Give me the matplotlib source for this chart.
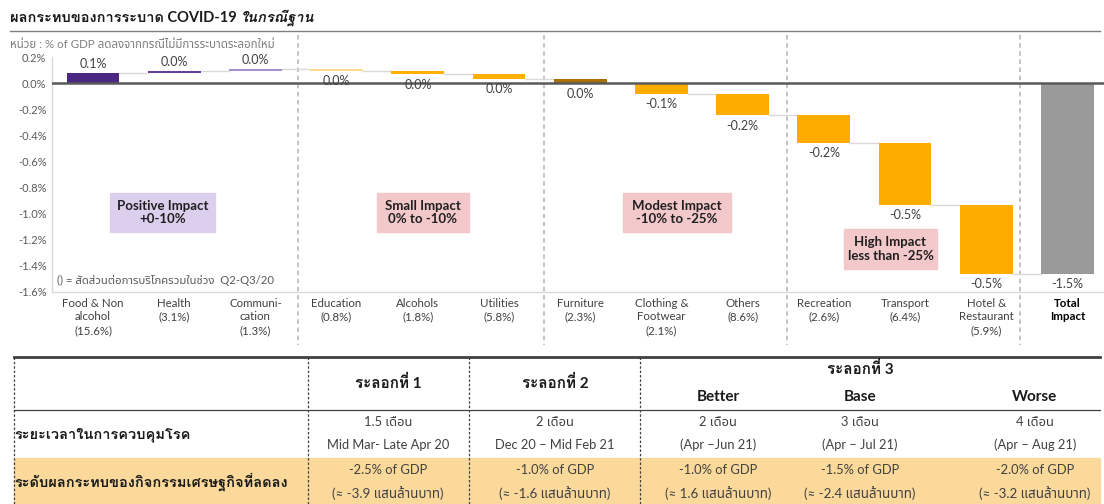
import matplotlib
matplotlib.use("Agg")
import matplotlib.pyplot as plt
from matplotlib import font_manager
from matplotlib.ft2font import FT2Font
from matplotlib.patches import Rectangle
from matplotlib.lines import Line2D
import matplotlib.transforms as mtransforms
import numpy as np

# ---------------- data ----------------
categories = ["Food & Non\nalcohol\n(15.6%)", "Health\n(3.1%)", "Communi-\ncation\n(1.3%)",
              "Education\n(0.8%)", "Alcohols\n(1.8%)", "Utilities\n(5.8%)",
              "Furniture\n(2.3%)", "Clothing &\nFootwear\n(2.1%)", "Others\n(8.6%)",
              "Recreation\n(2.6%)", "Transport\n(6.4%)", "Hotel &\nRestaurant\n(5.9%)",
              "Total\nImpact"]
changes = [0.075, 0.02, 0.01, -0.01, -0.027, -0.033, -0.035, -0.08, -0.165, -0.21, -0.475, -0.53]
value_labels = ["0.1%", "0.0%", "0.0%", "0.0%", "0.0%", "0.0%", "0.0%",
                "-0.1%", "-0.2%", "-0.2%", "-0.5%", "-0.5%", "-1.5%"]
bar_colors = ["#4B2683", "#6A3EA1", "#A68ED0", "#FFD98A", "#FFB000", "#FFB000",
              "#A86F00", "#FFAB00", "#FFAB00", "#FFAB00", "#FFAB00", "#FFAB00", "#9A9A9A"]
y_ticks = [0.2, 0.0, -0.2, -0.4, -0.6, -0.8, -1.0, -1.2, -1.4, -1.6]
separators = [2.52, 5.55, 8.55, 11.42]

groups = ["Positive Impact\n+0-10%", "Small Impact\n0% to -10%",
          "Modest Impact\n-10% to -25%", "High Impact\nless than -25%"]

table_header = ["ระลอกที่ 1", "ระลอกที่ 2", "ระลอกที่ 3"]
scenarios = ["Better", "Base", "Worse"]
row_labels = ["ระยะเวลาในการควบคุมโรค", "ระดับผลกระทบของกิจกรรมเศรษฐกิจที่ลดลง"]
duration_line1 = ["1.5 เดือน", "2 เดือน", "2 เดือน", "3 เดือน", "4 เดือน"]
duration_line2 = ["Mid Mar- Late Apr 20", "Dec 20 – Mid Feb 21", "(Apr –Jun 21)",
                  "(Apr – Jul 21)", "(Apr – Aug 21)"]
impact_line1 = ["-2.5% of GDP", "-1.0% of GDP", "-1.0% of GDP", "-1.5% of GDP", "-2.0% of GDP"]
impact_line2 = ["(≈ -3.9 แสนล้านบาท)", "(≈ -1.6 แสนล้านบาท)", "(≈ 1.6 แสนล้านบาท)",
                "(≈ -2.4 แสนล้านบาท)", "(≈ -3.2 แสนล้านบาท)"]

# ---------------- fonts ----------------
def thai_fonts():
    info = {}
    for f in font_manager.fontManager.ttflist:
        try:
            cm = FT2Font(f.fname).get_charmap()
        except Exception:
            continue
        if 0x0E01 in cm and 0x0E48 in cm:
            w = f.weight
            if isinstance(w, str):
                w = font_manager.weight_dict.get(w, 400)
            info.setdefault(f.name, set()).add(w)
    return info

info = thai_fonts()
reg_pref = ["Noto Sans Thai", "Noto Sans Thai UI", "Loma", "Tahoma", "Garuda", "Sarabun"]
bold_pref = ["Tahoma", "Loma", "Noto Sans Thai", "Noto Sans Thai UI", "Garuda", "Sarabun",
             "Kinnari", "Norasi"]
thai_reg = next((p for p in reg_pref if p in info), sorted(info)[0] if info else None)
with_bold = [k for k, ws in info.items() if max(ws) >= 600]
thai_bold = next((p for p in bold_pref if p in with_bold),
                 sorted(with_bold)[0] if with_bold else thai_reg)

fam = ["Lato"] + ([thai_reg] if thai_reg else []) + ["DejaVu Sans"]
fam_bold = ["Lato"] + ([thai_bold] if thai_bold else []) + ["DejaVu Sans"]
plt.rcParams["font.family"] = fam

W, H = 1104, 504
fig = plt.figure(figsize=(W / 100, H / 100), dpi=100)

def fx(x):
    return x / W

def fy(y):
    return 1 - y / H

# ---------------- chart ----------------
ax_l, ax_r, ax_t, ax_b = 52, 1104, 57, 292
ax = fig.add_axes([fx(ax_l), fy(ax_b), fx(ax_r - ax_l), fy(ax_t) - fy(ax_b)])
n = len(categories)
x = np.arange(n)
ax.set_xlim(-0.505, 12.45)
ax.set_ylim(-1.6, 0.2)

cum = np.cumsum(changes)
starts = np.concatenate([[0.0], cum[:-1]])
total = cum[-1]
bottoms = list(np.minimum(starts, cum)) + [min(0.0, total)]
heights = list(np.abs(np.array(changes))) + [abs(total)]
ends = list(cum) + [total]
wbar = 0.65
ax.bar(x, heights, bottom=bottoms, width=wbar, color=bar_colors, zorder=3)

# connectors
for i in range(n - 1):
    lvl = ends[i]
    ax.plot([x[i] + wbar / 2, x[i + 1] - wbar / 2], [lvl, lvl], color="#D9D9D9", lw=1, zorder=2)

ax.axhline(0, color="#595959", lw=1.8, zorder=4)

# value labels
vals = list(changes) + [total]
for i in range(n):
    if vals[i] > 0:
        yv = bottoms[i] + heights[i]
        ax.annotate(value_labels[i], (x[i], yv), xytext=(0, 6.5), textcoords="offset points",
                    ha="center", va="center", fontsize=9, color="#404040", zorder=5)
    else:
        yv = bottoms[i]
        ax.annotate(value_labels[i], (x[i], yv), xytext=(0, -7.5), textcoords="offset points",
                    ha="center", va="center", fontsize=9, color="#404040", zorder=5)

ax.set_yticks(y_ticks)
ax.set_yticklabels([f"{v:.1f}%" for v in y_ticks], fontsize=8, color="#595959")
ax.tick_params(axis="y", length=0, pad=4)
ax.set_xticks(x)
ax.set_xticklabels(categories, fontsize=8.3, color="#404040", linespacing=1.3)
ax.tick_params(axis="x", length=0, pad=4)
for lab in ax.get_xticklabels()[-1:]:
    lab.set_fontweight("bold")
    lab.set_color("#000000")
for s in ["top", "right"]:
    ax.spines[s].set_visible(False)
for s in ["left", "bottom"]:
    ax.spines[s].set_color("#D9D9D9")
    ax.spines[s].set_linewidth(1)

# separators spanning beyond axes
trans = mtransforms.blended_transform_factory(ax.transData, fig.transFigure)
for sx in separators:
    ax.add_line(Line2D([sx, sx], [fy(35), fy(345)], transform=trans, color="#BFBFBF",
                       lw=1.3, ls=(0, (2.5, 2)), clip_on=False, zorder=1))

# group boxes
boxes = [(110, 215, 193, 232, "#DCCFEE"), (377, 469, 193, 232, "#F2C8CB"),
         (623, 731, 193, 232, "#F2C8CB"), (844, 937, 229, 269, "#F2C8CB")]
for (x0, x1, y0, y1, c), g in zip(boxes, groups):
    fig.patches.append(Rectangle((fx(x0), fy(y1)), fx(x1 - x0), fy(y0) - fy(y1),
                                 transform=fig.transFigure, color=c, zorder=2))
    fig.text(fx((x0 + x1) / 2), fy((y0 + y1) / 2), g, ha="center", va="center",
             fontsize=9.5, fontweight="bold", color="#1F1F1F", linespacing=1.15, zorder=3)

fig.text(fx(57), fy(280), "() = สัดส่วนต่อการบริโภครวมในช่วง  Q2-Q3/20", ha="left", va="center",
         fontsize=8.2, color="#595959")

# title
t1 = fig.text(fx(10), fy(18), "ผลกระทบของการระบาด COVID-19 ", ha="left", va="center",
              fontsize=10.5, fontweight="bold", color="#1A1A1A", family=fam_bold)
fig.canvas.draw()
bb = t1.get_window_extent()
fig.text(bb.x1 / W, fy(18), "ในกรณีฐาน", ha="left", va="center", fontsize=10.5,
         fontweight="bold", style="italic", color="#1A1A1A", family=fam_bold)
fig.add_artist(Line2D([fx(10), fx(1100)], [fy(31), fy(31)], color="#808080", lw=1))
fig.text(fx(10), fy(44), "หน่วย : % of GDP ลดลงจากกรณีไม่มีการระบาดระลอกใหม่", ha="left", va="center",
         fontsize=8.3, color="#7F7F7F")

# ---------------- table ----------------
tl, tr = 14, 1100
fig.patches.append(Rectangle((fx(tl), fy(504)), fx(tr - tl), fy(458) - fy(504),
                             transform=fig.transFigure, color="#FAD99B", zorder=0))
fig.add_artist(Line2D([fx(tl), fx(tr)], [fy(357), fy(357)], color="#404040", lw=2))
fig.add_artist(Line2D([fx(tl), fx(tr)], [fy(410), fy(410)], color="#404040", lw=0.9))
for vx in [tl, 308, 469, 640]:
    fig.add_artist(Line2D([fx(vx), fx(vx)], [fy(357), fy(504)], color="#404040", lw=0.9,
                          ls=(0, (2, 1.5))))

col_centers = [388, 555, 718, 860, 1035]
head_kw = dict(fontsize=11, fontweight="bold", color="#1A1A1A", family=fam_bold)
row_kw = dict(fontsize=10.5, fontweight="bold", color="#1A1A1A", family=fam_bold)
fig.text(fx(388), fy(383), table_header[0], ha="center", va="center", **head_kw)
fig.text(fx(555), fy(383), table_header[1], ha="center", va="center", **head_kw)
fig.text(fx(860), fy(369), table_header[2], ha="center", va="center", **head_kw)
for cx, s in zip(col_centers[2:], scenarios):
    fig.text(fx(cx), fy(397), s, ha="center", va="center", **head_kw)

fig.text(fx(14), fy(435), row_labels[0], ha="left", va="center", **row_kw)
fig.text(fx(14), fy(482), row_labels[1], ha="left", va="center", **row_kw)
for cx, a, b in zip(col_centers, duration_line1, duration_line2):
    fig.text(fx(cx), fy(422), a, ha="center", va="center", fontsize=9.3, color="#404040")
    fig.text(fx(cx), fy(445), b, ha="center", va="center", fontsize=9.3, color="#404040")
for cx, a, b in zip(col_centers, impact_line1, impact_line2):
    fig.text(fx(cx), fy(470), a, ha="center", va="center", fontsize=9.3, color="#404040")
    fig.text(fx(cx), fy(493), b, ha="center", va="center", fontsize=9.6, color="#404040")

fig.savefig("out.png", dpi=100)
